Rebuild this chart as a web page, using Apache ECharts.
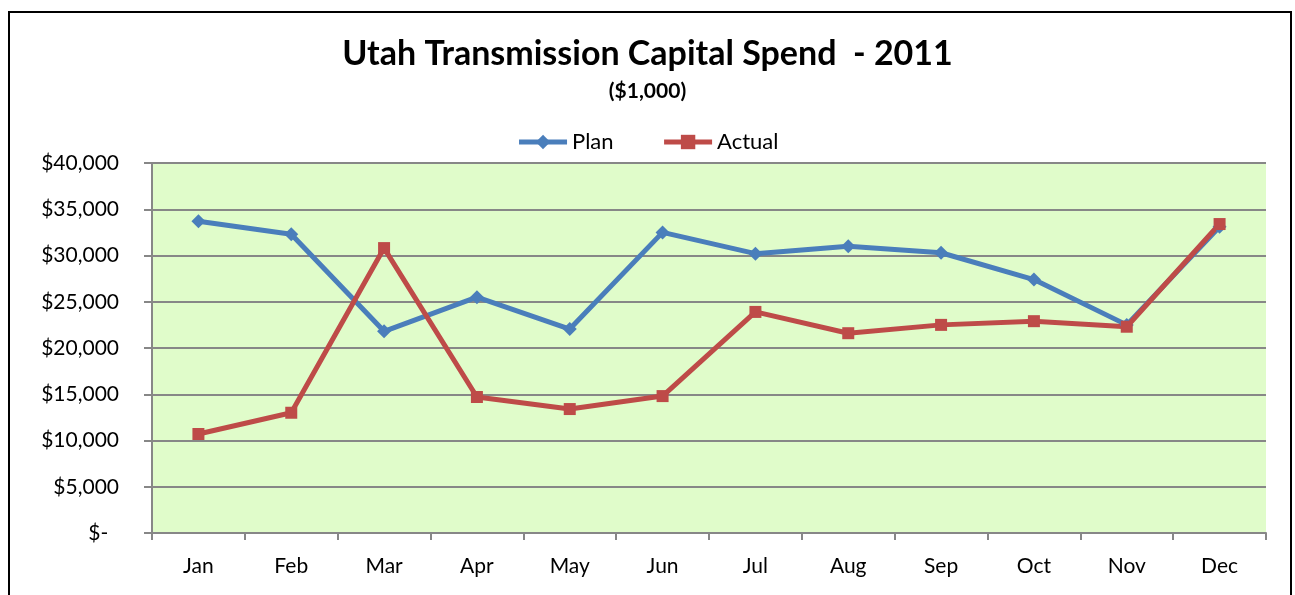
<!DOCTYPE html>
<html>
<head>
<meta charset="utf-8">
<script src="https://cdn.jsdelivr.net/npm/echarts@6/dist/echarts.min.js"></script>
<style>
  html, body { margin: 0; padding: 0; background: #fff; }
  #chart { width: 1295px; height: 595px; }
</style>
</head>
<body>
<div id="chart"></div>
<script>
const months = ['Jan', 'Feb', 'Mar', 'Apr', 'May', 'Jun', 'Jul', 'Aug', 'Sep', 'Oct', 'Nov', 'Dec'];
const plan = [33700, 32300, 21800, 25500, 22050, 32500, 30200, 31000, 30300, 27400, 22500, 33100];
const actual = [10700, 13000, 30800, 14700, 13400, 14800, 23900, 21600, 22500, 22900, 22300, 33400];

const font = 'Lato, "Open Sans", sans-serif';
const chart = echarts.init(document.getElementById('chart'));

chart.setOption({
  animation: false,
  textStyle: { fontFamily: font },
  title: {
    text: 'Utah Transmission Capital Spend  - 2011',
    subtext: '($1,000)',
    left: 'center',
    top: 32,
    itemGap: 10,
    textStyle: { fontSize: 34, fontWeight: 'bold', color: '#000', fontFamily: font },
    subtextStyle: { fontSize: 21, fontWeight: 'bold', color: '#000', fontFamily: font }
  },
  legend: {
    top: 126,
    left: 'center',
    itemWidth: 48,
    itemHeight: 18,
    itemGap: 48,
    lineStyle: { width: 5 },
    textStyle: { fontSize: 22, color: '#000', fontFamily: font },
    data: ['Plan', 'Actual']
  },
  graphic: [{
    type: 'rect',
    shape: { x: 9, y: 12, width: 1282, height: 600 },
    style: { fill: 'none', stroke: '#000', lineWidth: 2 },
    silent: true
  }],
  grid: {
    left: 152,
    top: 163,
    right: 29,
    bottom: 62,
    show: true,
    backgroundColor: '#e0fcca',
    borderWidth: 0
  },
  xAxis: {
    type: 'category',
    data: months,
    boundaryGap: true,
    axisLine: { lineStyle: { color: '#878787', width: 2 } },
    axisTick: { show: true, length: 7, lineStyle: { color: '#878787', width: 2 } },
    axisLabel: { fontSize: 21, color: '#000', margin: 23, fontFamily: font }
  },
  yAxis: {
    type: 'value',
    min: 0,
    max: 40000,
    interval: 5000,
    axisLine: { show: true, lineStyle: { color: '#878787', width: 2 } },
    axisTick: { show: true, length: 8, lineStyle: { color: '#878787', width: 2 } },
    axisLabel: {
      fontSize: 21,
      color: '#000',
      margin: 33,
      fontFamily: font,
      formatter: v => v === 0 ? '$-  ' : '$' + v.toLocaleString('en-US')
    },
    splitLine: { lineStyle: { color: '#878787', width: 2 } }
  },
  series: [
    {
      name: 'Plan',
      type: 'line',
      data: plan,
      symbol: 'diamond',
      symbolSize: 14,
      itemStyle: { color: '#4a7ebb' },
      lineStyle: { width: 5, color: '#4a7ebb' }
    },
    {
      name: 'Actual',
      type: 'line',
      data: actual,
      symbol: 'rect',
      symbolSize: 12,
      itemStyle: { color: '#be4b48' },
      lineStyle: { width: 5, color: '#be4b48' }
    }
  ]
});
</script>
</body>
</html>
